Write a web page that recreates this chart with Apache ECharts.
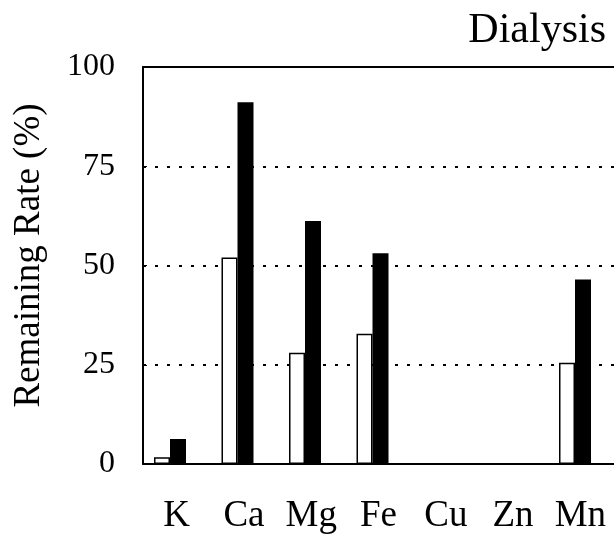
<!DOCTYPE html>
<html>
<head>
<meta charset="utf-8">
<script src="https://cdn.jsdelivr.net/npm/echarts@6/dist/echarts.min.js"></script>
<style>
  html, body { margin: 0; padding: 0; background: #fff; }
  #chart { width: 614px; height: 535px; }
</style>
</head>
<body>
<div id="chart"></div>
<script>
// Elements measured after dialysis
const elements = ['K', 'Ca', 'Mg', 'Fe', 'Cu', 'Zn', 'Mn'];
// Remaining rate (%) for the two conditions
const openSeries = [1.7, 52.0, 28.0, 32.8, 0, 0, 25.5];
const filledSeries = [6.3, 91.1, 61.2, 53.1, 0, 0, 46.5];
const yTicks = [0, 25, 50, 75, 100];

const FONT = '"Liberation Serif", "Times New Roman", serif';
const chart = echarts.init(document.getElementById('chart'));

chart.setOption({
  backgroundColor: '#ffffff',
  animation: false,
  title: {
    text: 'Dialysis',
    right: 3,
    top: 5,
    textStyle: { fontFamily: FONT, fontSize: 42, fontWeight: 'normal', color: '#000' }
  },
  grid: [
    // frame, gridlines and labels (runs past the right edge of the page)
    { left: 143, width: 477, top: 67, bottom: 71 },
    // bars
    { left: 136.25, width: 472.5, top: 67, bottom: 71 }
  ],
  xAxis: [
    {
      gridIndex: 0,
      type: 'category',
      data: elements,
      axisLine: { lineStyle: { color: '#000', width: 2 } },
      axisTick: { show: false },
      axisLabel: { fontFamily: FONT, fontSize: 37, color: '#000', margin: 34 },
      splitLine: { show: false }
    },
    {
      gridIndex: 1,
      type: 'category',
      data: elements,
      show: false
    },
    {
      // top edge of the frame
      gridIndex: 0,
      type: 'category',
      position: 'top',
      data: elements,
      axisLine: { show: true, lineStyle: { color: '#000', width: 2 } },
      axisTick: { show: false },
      axisLabel: { show: false },
      splitLine: { show: false }
    }
  ],
  yAxis: [
    {
      gridIndex: 0,
      type: 'value',
      min: yTicks[0],
      max: yTicks[yTicks.length - 1],
      interval: 25,
      name: 'Remaining Rate (%)',
      nameLocation: 'middle',
      nameGap: 95,
      nameRotate: 90,
      nameTextStyle: { fontFamily: FONT, fontSize: 37, color: '#000', padding: [0, 0, 0, 20] },
      axisLine: { show: true, lineStyle: { color: '#000', width: 2 } },
      axisTick: { show: true, inside: true, length: 4, lineStyle: { color: '#000', width: 1 } },
      axisLabel: { fontFamily: FONT, fontSize: 32, color: '#000', margin: 28, padding: [6, 0, 0, 0] },
      splitLine: { show: true, lineStyle: { color: '#000', width: 2, type: [3, 9] } }
    },
    {
      gridIndex: 1,
      type: 'value',
      min: 0,
      max: 100,
      show: false,
      splitLine: { show: false }
    }
  ],
  series: [
    {
      type: 'bar',
      xAxisIndex: 1,
      yAxisIndex: 1,
      data: openSeries,
      barWidth: 16,
      barGap: '0%',
      itemStyle: { color: '#ffffff', borderColor: '#000', borderWidth: 1.5 }
    },
    {
      type: 'bar',
      xAxisIndex: 1,
      yAxisIndex: 1,
      data: filledSeries,
      barWidth: 16,
      barGap: '0%',
      itemStyle: { color: '#000000', borderColor: '#000', borderWidth: 0 }
    }
  ]
});
</script>
</body>
</html>
